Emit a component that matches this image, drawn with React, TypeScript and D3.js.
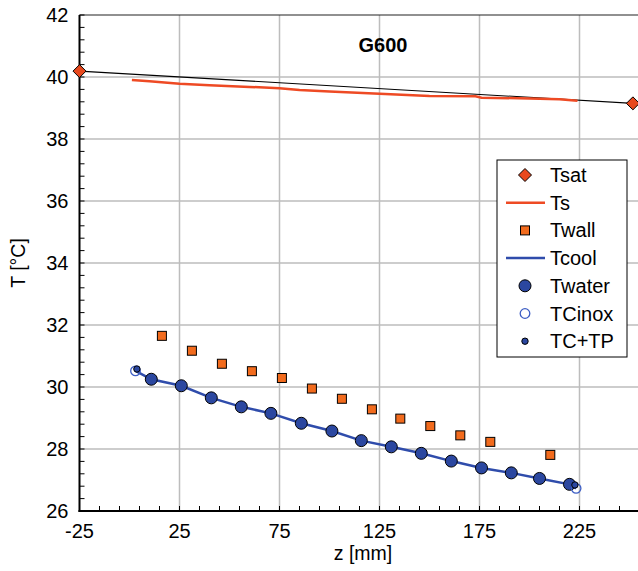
import React from "react";
import * as d3 from "d3";

const W = 638;
const H = 571;

const xTicks = [-25, 25, 75, 125, 175, 225, 275];
const yTicks = [26, 28, 30, 32, 34, 36, 38, 40, 42];

const tsatZ = [-25, 251.7];
const tsatT = [40.19, 39.15];

const tsZ = [1.2, 10, 25, 40, 60, 75, 85, 100, 125, 150, 173, 176, 200, 215, 224];
const tsT = [39.9, 39.86, 39.78, 39.73, 39.68, 39.64, 39.58, 39.53, 39.46, 39.39, 39.38, 39.33, 39.31, 39.28, 39.23];

const twallZ = [16.2, 31.2, 46.2, 61.2, 76.2, 91.2, 106.2, 121.2, 135.4, 150.4, 165.4, 180.4, 210.4];
const twallT = [31.65, 31.17, 30.75, 30.51, 30.29, 29.95, 29.62, 29.28, 28.98, 28.74, 28.44, 28.23, 27.81];

const twaterZ = [10.9, 25.9, 40.9, 55.9, 70.7, 85.9, 101.2, 115.9, 130.9, 145.9, 160.9, 176, 190.9, 205, 220];
const twaterT = [30.25, 30.04, 29.65, 29.36, 29.15, 28.83, 28.58, 28.27, 28.07, 27.86, 27.61, 27.39, 27.23, 27.05, 26.86];

const tcoolZ = [3.0, 10.9, 25.9, 40.9, 55.9, 70.7, 85.9, 101.2, 115.9, 130.9, 145.9, 160.9, 176, 190.9, 205, 220, 223.3];
const tcoolT = [30.52, 30.25, 30.04, 29.65, 29.36, 29.15, 28.83, 28.58, 28.27, 28.07, 27.86, 27.61, 27.39, 27.23, 27.05, 26.86, 26.73];

const tcinoxZ = [3.0, 223.3];
const tcinoxT = [30.52, 26.73];

const tctpZ = [3.7, 222.7];
const tctpT = [30.58, 26.84];

const legendLabels = ["Tsat", "Ts", "Twall", "Tcool", "Twater", "TCinox", "TC+TP"];

const C_TSAT = "#e8491e";
const C_TS = "#ee4a24";
const C_WALL = "#f26b1d";
const C_BLUE = "#2b47a0";
const C_BLUE_LINE = "#2f4cab";
const C_OPEN = "#3d5ec4";
const FONT = "Liberation Sans, Arial, sans-serif";

export default function App() {
  const left = 79.5;
  const top = 15;
  const bottom = 511;
  const x = d3.scaleLinear().domain([-25, 275]).range([left, left + 600]);
  const y = d3.scaleLinear().domain([26, 42]).range([bottom, top]);

  const line = d3
    .line<[number, number]>()
    .x((d) => x(d[0]))
    .y((d) => y(d[1]));

  const zip = (a: number[], b: number[]) => a.map((v, i) => [v, b[i]] as [number, number]);

  const minorX = d3.range(-25, 276, 10);
  const minorY = d3.range(26, 42.001, 0.4);

  const diamond = (cx: number, cy: number, r: number) =>
    `M${cx},${cy - r}L${cx + r},${cy}L${cx},${cy + r}L${cx - r},${cy}Z`;

  const legX = 497;
  const legY = 160;
  const legRow = 27.7;

  return (
    <svg
      width={W}
      height={H}
      style={{ position: "absolute", left: 0, top: 0, background: "#fff" }}
      fontFamily={FONT}
    >
      <defs>
        <clipPath id="plotclip">
          <rect x={left - 10} y={top - 10} width={W} height={bottom - top + 20} />
        </clipPath>
      </defs>
      {/* gridlines */}
      {xTicks.slice(1).map((t) => (
        <line key={"gx" + t} x1={x(t)} x2={x(t)} y1={top} y2={bottom} stroke="#bdbdbd" strokeWidth={1.5} />
      ))}
      {yTicks.slice(1, -1).map((t) => (
        <line key={"gy" + t} x1={left} x2={W} y1={y(t)} y2={y(t)} stroke="#bdbdbd" strokeWidth={1.5} />
      ))}
      {/* top frame */}
      <line x1={left} x2={W} y1={top} y2={top} stroke="#222" strokeWidth={1.2} />
      {/* minor ticks */}
      {minorX.map((t) => (
        <line key={"mx" + t} x1={x(t)} x2={x(t)} y1={bottom} y2={bottom - 5} stroke="#000" strokeWidth={1} />
      ))}
      {minorY.map((t, i) => (
        <line key={"my" + i} x1={left} x2={left + 5} y1={y(t)} y2={y(t)} stroke="#000" strokeWidth={1} />
      ))}
      {/* axes */}
      <line x1={left} x2={left} y1={top} y2={bottom + 1} stroke="#000" strokeWidth={2} />
      <line x1={left - 1} x2={W} y1={bottom} y2={bottom} stroke="#000" strokeWidth={2} />

      {/* tick labels */}
      {yTicks.map((t) => (
        <text key={"ty" + t} x={left - 11} y={y(t) + 7} textAnchor="end" fontSize={20} fill="#000">
          {t}
        </text>
      ))}
      {xTicks.slice(0, 6).map((t) => (
        <text key={"tx" + t} x={x(t)} y={bottom + 27} textAnchor="middle" fontSize={20} fill="#000">
          {t}
        </text>
      ))}
      <text x={363} y={560} textAnchor="middle" fontSize={19.5} fill="#000">
        z [mm]
      </text>
      <text
        transform={`translate(25,${263}) rotate(-90)`}
        textAnchor="middle"
        fontSize={19.5}
        fill="#000"
      >
        T [°C]
      </text>
      <text x={383} y={52} textAnchor="middle" fontSize={20} fontWeight="bold" fill="#000">
        G600
      </text>

      <g clipPath="url(#plotclip)">
        {/* Tsat */}
        <path d={line(zip(tsatZ, tsatT)) || ""} fill="none" stroke="#000" strokeWidth={1.1} />
        {/* Ts */}
        <path d={line(zip(tsZ, tsT)) || ""} fill="none" stroke={C_TS} strokeWidth={2.5} />
        {tsatZ.map((z, i) => (
          <path key={"ds" + i} d={diamond(x(z), y(tsatT[i]), 6.5)} fill={C_TSAT} stroke="#000" strokeWidth={1} />
        ))}
        {/* Twall */}
        {twallZ.map((z, i) => (
          <rect
            key={"wa" + i}
            x={x(z) - 4.5}
            y={y(twallT[i]) - 4.5}
            width={9}
            height={9}
            fill={C_WALL}
            stroke="#000"
            strokeWidth={1}
          />
        ))}
        {/* Tcool */}
        <path d={line(zip(tcoolZ, tcoolT)) || ""} fill="none" stroke={C_BLUE_LINE} strokeWidth={2.5} />
        {/* Twater */}
        {twaterZ.map((z, i) => (
          <circle key={"tw" + i} cx={x(z)} cy={y(twaterT[i])} r={6} fill={C_BLUE} stroke="#000" strokeWidth={1} />
        ))}
        {/* TCinox */}
        {tcinoxZ.map((z, i) => (
          <circle key={"ti" + i} cx={x(z)} cy={y(tcinoxT[i])} r={4.8} fill="none" stroke={C_OPEN} strokeWidth={1.3} />
        ))}
        {/* TC+TP */}
        {tctpZ.map((z, i) => (
          <circle key={"tc" + i} cx={x(z)} cy={y(tctpT[i])} r={3.2} fill={C_BLUE} stroke="#000" strokeWidth={1} />
        ))}
      </g>

      {/* legend */}
      <rect x={legX} y={legY} width={130} height={197} fill="#fff" stroke="#000" strokeWidth={1} />
      {legendLabels.map((lab, i) => {
        const cy = legY + 15 + i * legRow;
        const cx = 525;
        let sym: React.ReactNode = null;
        if (i === 0) sym = <path d={diamond(cx, cy, 6.5)} fill={C_TSAT} stroke="#000" strokeWidth={1} />;
        if (i === 1) sym = <line x1={506} x2={545} y1={cy} y2={cy} stroke={C_TS} strokeWidth={2.5} />;
        if (i === 2) sym = <rect x={cx - 4.5} y={cy - 4.5} width={9} height={9} fill={C_WALL} stroke="#000" strokeWidth={1} />;
        if (i === 3) sym = <line x1={506} x2={545} y1={cy} y2={cy} stroke={C_BLUE_LINE} strokeWidth={2.5} />;
        if (i === 4) sym = <circle cx={cx} cy={cy} r={6} fill={C_BLUE} stroke="#000" strokeWidth={1} />;
        if (i === 5) sym = <circle cx={cx} cy={cy} r={4.8} fill="none" stroke={C_OPEN} strokeWidth={1.3} />;
        if (i === 6) sym = <circle cx={cx} cy={cy} r={3.2} fill={C_BLUE} stroke="#000" strokeWidth={1} />;
        return (
          <g key={lab}>
            {sym}
            <text x={550} y={cy + 7} fontSize={20} fill="#000">
              {lab}
            </text>
          </g>
        );
      })}
    </svg>
  );
}
